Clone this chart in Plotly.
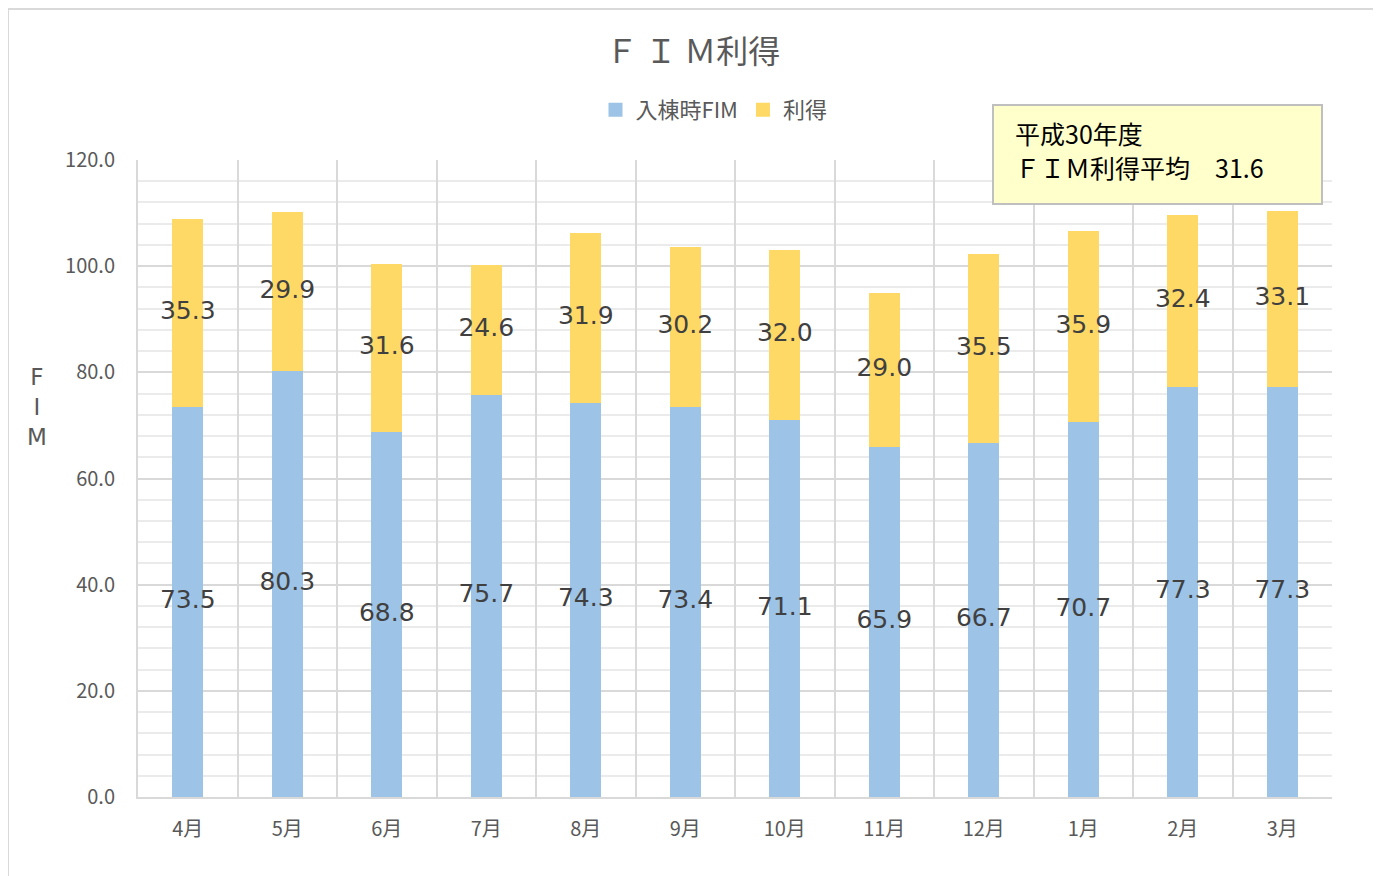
import plotly.graph_objects as go

months = ["4月", "5月", "6月", "7月", "8月", "9月", "10月", "11月", "12月", "1月", "2月", "3月"]
fim_admission = [73.5, 80.3, 68.8, 75.7, 74.3, 73.4, 71.1, 65.9, 66.7, 70.7, 77.3, 77.3]
fim_gain = [35.3, 29.9, 31.6, 24.6, 31.9, 30.2, 32.0, 29.0, 35.5, 35.9, 32.4, 33.1]
series_names = ["入棟時FIM", "利得"]
avg_label = "ＦＩＭ利得平均　31.6"
year_label = "平成30年度"

BLUE = "#9DC3E6"
YELLOW = "#FFD966"
GREY = "#595959"
JP = "Noto Sans CJK JP"
LBL = "DejaVu Sans"

# page body has an 8px margin; the figure is laid out in window coordinates
OFF = 8
W, H = 1381 - OFF, 876 - OFF
PL, PR, PT, PB = 138, 1332, 160, 797  # plot area in window px
PW, PH = PR - PL, PB - PT


def px(x):
    return (x - PL) / PW


def py(y):
    return (PB - y) / PH


fig = go.Figure()
fig.add_trace(go.Bar(x=months, y=fim_admission, name=series_names[0], showlegend=False,
                     marker=dict(color=BLUE, line=dict(width=0)), width=0.31))
fig.add_trace(go.Bar(x=months, y=fim_gain, name=series_names[1], showlegend=False,
                     marker=dict(color=YELLOW, line=dict(width=0)), width=0.31))

# legend entries with larger square swatches
for nm, col in zip(series_names, [BLUE, YELLOW]):
    fig.add_trace(go.Scatter(x=[None], y=[None], mode="markers", name=nm,
                             marker=dict(symbol="square", size=14, color=col)))

fig.add_trace(go.Scatter(x=months, y=[v / 2 for v in fim_admission], mode="text",
                         text=[f"{v:.1f}" for v in fim_admission], showlegend=False, hoverinfo="skip",
                         textfont=dict(family=LBL, size=25, color="#404040")))
fig.add_trace(go.Scatter(x=months, y=[a + g / 2 for a, g in zip(fim_admission, fim_gain)], mode="text",
                         text=[f"{v:.1f}" for v in fim_gain], showlegend=False, hoverinfo="skip",
                         textfont=dict(family=LBL, size=25, color="#404040")))

fig.update_layout(
    width=W, height=H,
    margin=dict(l=PL - OFF, r=W - (PR - OFF), t=PT - OFF, b=H - (PB - OFF)),
    paper_bgcolor="white", plot_bgcolor="white",
    barmode="stack",
    font=dict(family=JP, color=GREY),
    title=dict(text="Ｆ Ｉ Ｍ利得", x=(693 - OFF) / W, xref="container", y=1 - (52 - OFF) / H, yref="container",
               xanchor="center", yanchor="middle", font=dict(family=JP, size=32, color=GREY)),
    legend=dict(orientation="h", x=px(714), xanchor="center", y=py(110), yanchor="middle",
                font=dict(family=JP, size=22, color=GREY), traceorder="normal", itemwidth=30),
    xaxis=dict(type="category", tickson="boundaries", showgrid=True, gridcolor="#D9D9D9", gridwidth=2,
               showline=True, linecolor="#D9D9D9", linewidth=2, mirror=False, ticks="",
               tickfont=dict(family=JP, size=20, color=GREY), ticklabelstandoff=13,
               range=[-0.5, 11.5]),
    yaxis=dict(range=[0, 120], dtick=20, tickformat=".1f", showgrid=True, gridcolor="#D9D9D9", gridwidth=2,
               minor=dict(dtick=4, showgrid=True, gridcolor="#EBEBEB", gridwidth=2),
               zeroline=False, showline=True, linecolor="#D9D9D9", linewidth=2, ticks="",
               tickfont=dict(family=JP, size=20, color=GREY), ticklabelstandoff=17),
    shapes=[
        dict(type="rect", xref="paper", yref="paper", x0=px(8), x1=px(1376),
             y0=py(890), y1=py(9), line=dict(color="#D9D9D9", width=2), layer="below"),
        dict(type="rect", xref="paper", yref="paper", x0=px(993), x1=px(1322),
             y0=py(204), y1=py(105), fillcolor="#FFFFCC",
             line=dict(color="#BFBFBF", width=2), layer="above"),
    ],
    annotations=[
        dict(text="F<br>I<br>M", xref="paper", yref="paper", x=px(37), y=py(407),
             showarrow=False, xanchor="center", yanchor="middle", font=dict(family=LBL, size=23, color=GREY)),
        dict(text=year_label, xref="paper", yref="paper", x=px(1013), y=py(133),
             showarrow=False, xanchor="left", yanchor="middle", font=dict(family=JP, size=25, color="#000000")),
        dict(text=avg_label, xref="paper", yref="paper", x=px(1013), y=py(167),
             showarrow=False, xanchor="left", yanchor="middle", font=dict(family=JP, size=25, color="#000000")),
    ],
)

fig.write_html("out.html")
